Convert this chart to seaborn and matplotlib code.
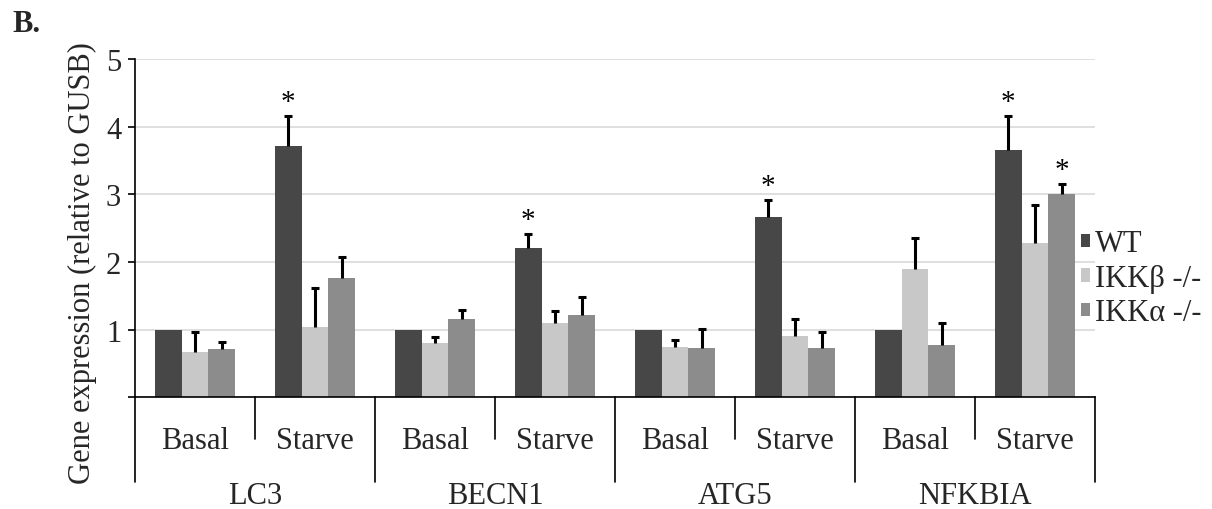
import matplotlib
matplotlib.use("Agg")
import matplotlib.pyplot as plt
import matplotlib.transforms as mtransforms
import pandas as pd
import seaborn as sns

# -----------------------------
# Data
# -----------------------------

GENES = ["LC3", "BECN1", "ATG5", "NFKBIA"]
CONDITIONS = ["Basal", "Starve"]
GENOTYPES = ["WT", "IKKβ -/-", "IKKα -/-"]

WT_MEAN = [1.00, 3.72, 1.00, 2.20, 1.00, 2.67, 1.00, 3.66]
WT_ERR = [0.00, 0.45, 0.00, 0.22, 0.00, 0.25, 0.00, 0.51]
WT_STAR = [False, True, False, True, False, True, False, True]

IKKB_MEAN = [0.66, 1.04, 0.80, 1.09, 0.74, 0.91, 1.90, 2.28]
IKKB_ERR = [0.30, 0.57, 0.09, 0.19, 0.11, 0.24, 0.45, 0.56]
IKKB_STAR = [False] * 8

IKKA_MEAN = [0.71, 1.77, 1.16, 1.22, 0.72, 0.73, 0.77, 3.00]
IKKA_ERR = [0.10, 0.30, 0.13, 0.26, 0.29, 0.24, 0.33, 0.16]
IKKA_STAR = [False, False, False, False, False, False, False, True]

Y_TICKS = [0, 1, 2, 3, 4, 5]
Y_TICK_LABELS = ["", "1", "2", "3", "4", "5"]

# -----------------------------
# Style
# -----------------------------

COLORS = ["#474747", "#c8c8c8", "#8c8c8c"]
GRID = "#d9d9d9"
FONT = ["Liberation Serif", "DejaVu Serif"]

sns.set_style("white")
plt.rcParams["font.family"] = FONT


def build_frame():
    slots = [f"{g}|{c}" for g in GENES for c in CONDITIONS]
    rows = []
    series = [
        (GENOTYPES[0], WT_MEAN),
        (GENOTYPES[1], IKKB_MEAN),
        (GENOTYPES[2], IKKA_MEAN),
    ]
    for name, means in series:
        for slot, value in zip(slots, means):
            rows.append({"slot": slot, "genotype": name, "value": value})
    return pd.DataFrame(rows), slots


def main() -> None:
    df, slots = build_frame()

    fig = plt.figure(figsize=(12.12, 5.10), dpi=100)
    ax = fig.add_axes([0.1114, 0.2196, 0.7921, 0.6618])

    sns.barplot(
        data=df,
        x="slot",
        y="value",
        hue="genotype",
        order=slots,
        hue_order=GENOTYPES,
        palette=COLORS,
        width=0.667,
        saturation=1,
        errorbar=None,
        edgecolor="none",
        ax=ax,
    )

    # error bars (upward only) and significance stars
    errs = [WT_ERR, IKKB_ERR, IKKA_ERR]
    stars = [WT_STAR, IKKB_STAR, IKKA_STAR]
    for container, err, star in zip(ax.containers, errs, stars):
        for patch, e, s in zip(container.patches, err, star):
            xc = patch.get_x() + patch.get_width() / 2
            top = patch.get_height()
            if e > 0:
                _, caps, _ = ax.errorbar(
                    xc, top, yerr=[[0], [e]],
                    fmt="none", ecolor="black",
                    elinewidth=2.2, capsize=2.6, capthick=2.2,
                    zorder=4,
                )
                # keep only the upper cap
                for cap in caps:
                    if cap.get_ydata()[0] <= top + 1e-9:
                        cap.set_visible(False)
            if s:
                ax.text(
                    xc, top + e + 0.2, "*",
                    ha="center", va="center",
                    fontsize=21, color="black",
                )

    ax.set_xlim(-0.5, len(slots) - 0.5)
    ax.set_ylim(0, 5)
    ax.set_yticks(Y_TICKS)
    ax.set_yticklabels(Y_TICK_LABELS, fontsize=22)
    ax.set_xticks([])
    ax.set_xlabel("")
    ax.set_ylabel("")

    ax.yaxis.grid(True, color=GRID, linewidth=1.2)
    ax.set_axisbelow(True)
    ax.tick_params(axis="y", direction="out", length=5, width=1.2,
                   color="black", left=True, pad=5)

    for side in ["top", "right"]:
        ax.spines[side].set_visible(False)
    for side in ["left", "bottom"]:
        ax.spines[side].set_color("black")
        ax.spines[side].set_linewidth(1.2)

    # hierarchical category axis
    trans = mtransforms.blended_transform_factory(ax.transData, ax.transAxes)
    n_cond = len(CONDITIONS)
    for i in range(len(GENES)):
        ax.plot([i * n_cond - 0.5] * 2, [0, -0.252], transform=trans,
                color="black", lw=1.2, clip_on=False)
        ax.plot([i * n_cond + 0.5] * 2, [0, -0.124], transform=trans,
                color="black", lw=1.2, clip_on=False)
        for j, cond in enumerate(CONDITIONS):
            ax.text(i * n_cond + j, -0.13, cond, transform=trans,
                    ha="center", va="center", fontsize=22)
        ax.text(i * n_cond + 0.5, -0.292, GENES[i], transform=trans,
                ha="center", va="center", fontsize=22)
    ax.plot([len(slots) - 0.5] * 2, [0, -0.252], transform=trans,
            color="black", lw=1.2, clip_on=False)

    # legend
    handles, labels = ax.get_legend_handles_labels()
    ax.legend_.remove()
    fig.legend(
        handles, labels,
        loc="center left",
        bbox_to_anchor=(0.892, 0.452),
        frameon=False,
        fontsize=22,
        handlelength=0.3,
        handleheight=0.3,
        handletextpad=0.15,
        labelspacing=0.18,
        borderpad=0,
        borderaxespad=0,
    )

    fig.text(0.068, 0.484, "Gene expression (relative to GUSB)",
             rotation=90, ha="center", va="center", fontsize=22)
    fig.text(0.01, 0.98, "B.", ha="left", va="top",
             fontsize=22, fontweight="bold")

    fig.savefig("out.png", dpi=100)
    plt.close(fig)


if __name__ == "__main__":
    main()
